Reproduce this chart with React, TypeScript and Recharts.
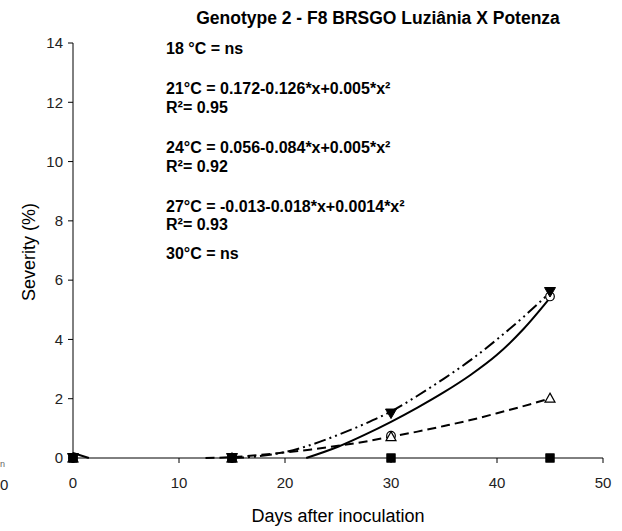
import { ComposedChart, Line, XAxis, YAxis } from "recharts"

// observed points (days after inoculation)
const days = [0, 15, 30, 45]
const sev18 = [0, 0, 0, 0]
const sev21 = [0, 0, 0.75, 5.45]
const sev24 = [0, 0, 1.5, 5.6]
const sev27 = [0, 0, 0.72, 2.02]
const sev30 = [0, 0, 0, 0]

// fitted curves
const fitSolidX = [0, 1.5, 10, 22, 25, 27.5, 30, 32.5, 35, 37.5, 40, 42.5, 45]
const fitSolidY = [0.17, 0, null, 0, 0.38, 0.78, 1.22, 1.7, 2.22, 2.8, 3.48, 4.35, 5.4]
const fitDashDotX = [15, 17.5, 20, 22.5, 25, 27.5, 30, 32.5, 35, 37.5, 40, 42.5, 45]
const fitDashDotY = [0, 0.06, 0.2, 0.45, 0.78, 1.15, 1.57, 2.1, 2.68, 3.3, 4.0, 4.76, 5.58]
const fitDashX = [12.5, 15, 17.5, 20, 22.5, 25, 27.5, 30, 32.5, 35, 37.5, 40, 42.5, 45]
const fitDashY = [0, 0.03, 0.1, 0.19, 0.29, 0.41, 0.55, 0.72, 0.89, 1.08, 1.28, 1.51, 1.75, 2.01]

const xTicks = [0, 10, 20, 30, 40, 50]
const yTicks = [0, 2, 4, 6, 8, 10, 12, 14]

const title = "Genotype 2 - F8 BRSGO Luziânia X Potenza"
const notes = [
    "18 °C = ns",
    "21°C = 0.172-0.126*x+0.005*x²",
    "R²= 0.95",
    "24°C = 0.056-0.084*x+0.005*x²",
    "R²= 0.92",
    "27°C = -0.013-0.018*x+0.0014*x²",
    "R²= 0.93",
    "30°C = ns",
]
const noteY = [54, 94, 113, 153, 171.5, 211.5, 230, 259]

const font = "'Liberation Sans', Arial, sans-serif"

function pts(xs: number[], ys: (number | null)[]) {
    return xs.map((x, i) => ({ x, y: ys[i] }))
}

const circle = (p: any) => <circle key={p.key} cx={p.cx} cy={p.cy} r={4.3} fill="#fff" stroke="#000" strokeWidth={1.2} />
const triUp = (p: any) => (
    <polygon key={p.key} points={`${p.cx},${p.cy - 5} ${p.cx + 5},${p.cy + 4} ${p.cx - 5},${p.cy + 4}`} fill="#fff" stroke="#000" strokeWidth={1.2} />
)
const triDown = (p: any) => (
    <polygon key={p.key} points={`${p.cx - 5.5},${p.cy - 4.5} ${p.cx + 5.5},${p.cy - 4.5} ${p.cx},${p.cy + 5}`} fill="#000" stroke="#000" strokeWidth={1} />
)
const square = (p: any) => <rect key={p.key} x={p.cx - 4.5} y={p.cy - 4.5} width={9} height={9} fill="#000" />

const tickStyle = { fill: "#222", fontSize: 15, fontFamily: font }

export default function App() {
    return (
        <div style={{ position: "absolute", left: 0, top: 0, width: 622, height: 531, background: "#fff", overflow: "hidden" }}>
            <ComposedChart width={622} height={531} margin={{ top: 43, right: 19, left: 23, bottom: 43 }}>
                <XAxis type="number" dataKey="x" domain={[0, 50]} ticks={xTicks} height={30}
                    axisLine={{ stroke: "#000" }} tickLine={{ stroke: "#000" }} tickSize={5} tickMargin={14}
                    tick={tickStyle} />
                <YAxis type="number" dataKey="y" domain={[0, 14]} ticks={yTicks} width={50}
                    axisLine={{ stroke: "#000" }} tickLine={{ stroke: "#000" }} tickSize={5} tickMargin={5}
                    tick={tickStyle} />
                <Line data={pts(fitSolidX, fitSolidY)} dataKey="y" stroke="#000" strokeWidth={2} dot={false} type="monotone" isAnimationActive={false} />
                <Line data={pts(fitDashDotX, fitDashDotY)} dataKey="y" stroke="#000" strokeWidth={2} strokeDasharray="12 4 2 4 2 4" dot={false} type="monotone" isAnimationActive={false} />
                <Line data={pts(fitDashX, fitDashY)} dataKey="y" stroke="#000" strokeWidth={2} strokeDasharray="9 5" dot={false} type="monotone" isAnimationActive={false} />
                <Line data={pts(days, sev21)} dataKey="y" stroke="none" dot={circle} isAnimationActive={false} />
                <Line data={pts(days, sev27)} dataKey="y" stroke="none" dot={triUp} isAnimationActive={false} />
                <Line data={pts(days, sev24)} dataKey="y" stroke="none" dot={triDown} isAnimationActive={false} />
                <Line data={pts(days, sev18)} dataKey="y" stroke="none" dot={square} isAnimationActive={false} />
                <Line data={pts(days, sev30)} dataKey="y" stroke="none" dot={square} isAnimationActive={false} />
            </ComposedChart>
            <svg width={622} height={531} style={{ position: "absolute", left: 0, top: 0, pointerEvents: "none" }} fontFamily={font}>
                <text x={378} y={23.5} textAnchor="middle" fontSize={17.5} fontWeight="bold" fill="#000">{title}</text>
                {notes.map((t, i) => (
                    <text key={i} x={166} y={noteY[i]} fontSize={16} fontWeight="bold" fill="#000">{t}</text>
                ))}
                <text x={35} y={252} textAnchor="middle" fontSize={18} fill="#000" transform="rotate(-90 35 252)">Severity (%)</text>
                <text x={338} y={521.5} textAnchor="middle" fontSize={18} fill="#000">Days after inoculation</text>
                <text x={0} y={490} fontSize={15} fill="#222">0</text>
                <text x={0} y={467} fontSize={9} fill="#666">n</text>
            </svg>
        </div>
    )
}
